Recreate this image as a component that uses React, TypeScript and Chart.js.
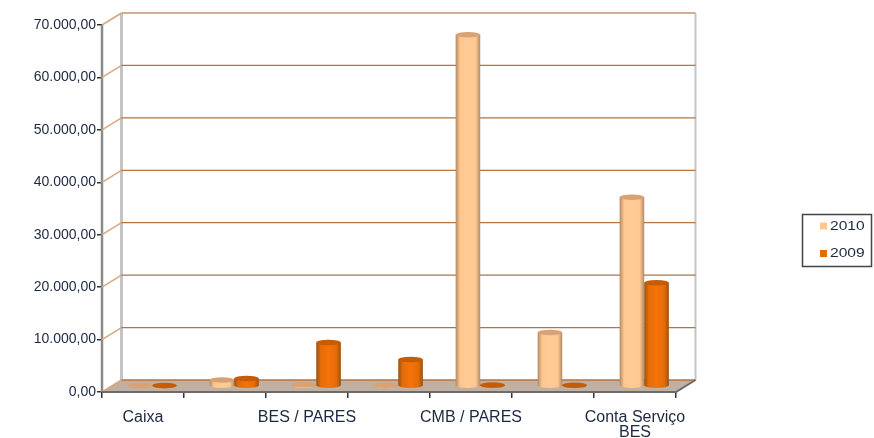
import React, { useEffect, useRef } from "react";
import { Chart, registerables } from "chart.js";

Chart.register(...registerables);

const categories: (string | string[])[] = ["Caixa", "", "BES / PARES", "", "CMB / PARES", "", ["Conta Serviço", "BES"]];
const values2010 = [50, 1150, 250, 150, 67000, 10200, 36000];
const values2009 = [80, 1430, 8300, 5050, 200, 150, 19700];
const yTicks = [0, 10000, 20000, 30000, 40000, 50000, 60000, 70000];
const seriesNames = ["2010", "2009"];

const FONT = '"Liberation Sans", Arial, sans-serif';
const TEXT = "#1c2740";
const DX = 19.5;
const DY = 12;

const formatValue = (v: number) => {
  const s = String(Math.round(v)).replace(/\B(?=(\d{3})+$)/g, ".");
  return s + ",00";
};

const palettes = [
  { fill: "#FFC78F", edge: "#b08a66", mid: "#FFCB96", top: "#d9a274" },
  { fill: "#E36C09", edge: "#9a5010", mid: "#F57208", top: "#c45c08" },
];

const threeD = {
  id: "threeD",
  beforeDatasetsDraw(chart: any) {
    const { ctx, chartArea: a, scales } = chart;
    const y = scales.y;
    ctx.save();
    ctx.fillStyle = "#BFB0A1";
    ctx.beginPath();
    ctx.moveTo(a.left, a.bottom);
    ctx.lineTo(a.right, a.bottom);
    ctx.lineTo(a.right + DX, a.bottom - DY);
    ctx.lineTo(a.left + DX, a.bottom - DY);
    ctx.closePath();
    ctx.fill();
    ctx.strokeStyle = "#C4C4C4";
    ctx.lineWidth = 3;
    ctx.beginPath();
    ctx.moveTo(a.left + DX, a.top - DY);
    ctx.lineTo(a.left + DX, a.bottom - DY);
    ctx.stroke();
    ctx.lineWidth = 2;
    ctx.beginPath();
    ctx.moveTo(a.right + DX, a.top - DY);
    ctx.lineTo(a.right + DX, a.bottom - DY);
    ctx.stroke();
    ctx.strokeStyle = "#8A8A8A";
    ctx.lineWidth = 2.5;
    ctx.beginPath();
    ctx.moveTo(a.left, a.top);
    ctx.lineTo(a.left, a.bottom);
    ctx.stroke();
    yTicks.forEach((t) => {
      const py = y.getPixelForValue(t);
      ctx.strokeStyle = "#D8A77F";
      ctx.lineWidth = 1.5;
      ctx.beginPath();
      ctx.moveTo(a.left, py);
      ctx.lineTo(a.left + DX, py - DY);
      ctx.stroke();
      ctx.strokeStyle = t === 70000 ? "#C9926A" : "#B8723C";
      ctx.lineWidth = 1.3;
      ctx.beginPath();
      ctx.moveTo(a.left + DX, py - DY);
      ctx.lineTo(a.right + DX, py - DY);
      ctx.stroke();
    });
    ctx.strokeStyle = "#6B6B6B";
    ctx.lineWidth = 2;
    ctx.beginPath();
    ctx.moveTo(a.left, a.bottom);
    ctx.lineTo(a.right, a.bottom);
    ctx.lineTo(a.right + DX, a.bottom - DY);
    ctx.stroke();
    ctx.restore();
  },
  beforeDatasetDraw() {
    return false;
  },
  afterDatasetsDraw(chart: any) {
    const { ctx } = chart;
    chart.data.datasets.forEach((_: any, i: number) => {
      const p = palettes[i];
      chart.getDatasetMeta(i).data.forEach((bar: any) => {
        const w = bar.width;
        const cx = bar.x + DX / 2 - 0.5;
        const left = cx - w / 2;
        const right = cx + w / 2;
        const base = bar.base - DY / 2;
        const top = bar.y - DY / 2;
        const ry = 2.8;
        ctx.save();
        const g = ctx.createLinearGradient(left, 0, right, 0);
        g.addColorStop(0, p.edge);
        g.addColorStop(0.18, p.fill);
        g.addColorStop(0.5, p.mid);
        g.addColorStop(0.82, p.fill);
        g.addColorStop(1, p.edge);
        ctx.fillStyle = g;
        ctx.beginPath();
        ctx.moveTo(left, top);
        ctx.lineTo(left, base);
        ctx.ellipse(cx, base, w / 2, ry, 0, Math.PI, 0, true);
        ctx.lineTo(right, top);
        ctx.closePath();
        ctx.fill();
        ctx.fillStyle = p.top;
        ctx.beginPath();
        ctx.ellipse(cx, top, w / 2, ry, 0, 0, Math.PI * 2);
        ctx.fill();
        ctx.restore();
      });
    });
  },
  afterDraw(chart: any) {
    const { ctx } = chart;
    ctx.save();
    ctx.strokeStyle = "#444444";
    ctx.lineWidth = 1.5;
    ctx.strokeRect(802.5, 214.5, 69, 52);
    chart.data.datasets.forEach((ds: any, i: number) => {
      const cy = 226 + i * 27.5;
      ctx.fillStyle = ds.backgroundColor;
      ctx.fillRect(820, cy - 3.5, 7, 7);
      ctx.save();
      ctx.translate(830, cy);
      ctx.scale(1.3, 1);
      ctx.fillStyle = TEXT;
      ctx.font = `12px ${FONT}`;
      ctx.textBaseline = "middle";
      ctx.textAlign = "left";
      ctx.fillText(ds.label, 0, 0.5);
      ctx.restore();
    });
    ctx.restore();
  },
};

export default function App() {
  const ref = useRef<HTMLCanvasElement>(null);
  useEffect(() => {
    const chart = new Chart(ref.current!, {
      type: "bar",
      plugins: [threeD],
      data: {
        labels: categories,
        datasets: [
          { label: seriesNames[0], data: values2010, backgroundColor: palettes[0].fill },
          { label: seriesNames[1], data: values2009, backgroundColor: palettes[1].fill },
        ],
      },
      options: {
        responsive: false,
        animation: false,
        devicePixelRatio: 1,
        layout: { padding: { top: 25, right: 198, left: 0, bottom: 0 } },
        datasets: { bar: { categoryPercentage: 0.6, barPercentage: 1 } },
        plugins: { legend: { display: false }, tooltip: { enabled: false }, title: { display: false } },
        scales: {
          x: {
            afterFit: (s: any) => { s.height = 46; },
            border: { display: false },
            grid: { drawOnChartArea: false, drawTicks: true, tickLength: 6, color: "#333333", lineWidth: 1.5 },
            ticks: {
              autoSkip: false,
              maxRotation: 0,
              minRotation: 0,
              padding: 12,
              color: TEXT,
              font: { family: FONT, size: 16, lineHeight: 0.95 },
            },
          },
          y: {
            min: 0,
            max: 70000,
            afterFit: (s: any) => { s.width = 102; },
            afterBuildTicks: (s: any) => { s.ticks = yTicks.map((value) => ({ value })); },
            border: { display: false },
            grid: { drawOnChartArea: false, drawTicks: true, tickLength: 5, color: "#333333", lineWidth: 1.5 },
            ticks: {
              padding: 1,
              color: TEXT,
              font: { family: FONT, size: 14 },
              callback: (v: any) => formatValue(Number(v)),
            },
          },
        },
      } as any,
    });
    return () => chart.destroy();
  }, []);
  return (
    <canvas
      ref={ref}
      width={874}
      height={438}
      style={{ position: "fixed", left: 0, top: 0, width: 874, height: 438, display: "block", background: "#fff", filter: "blur(0.45px)" }}
    />
  );
}
